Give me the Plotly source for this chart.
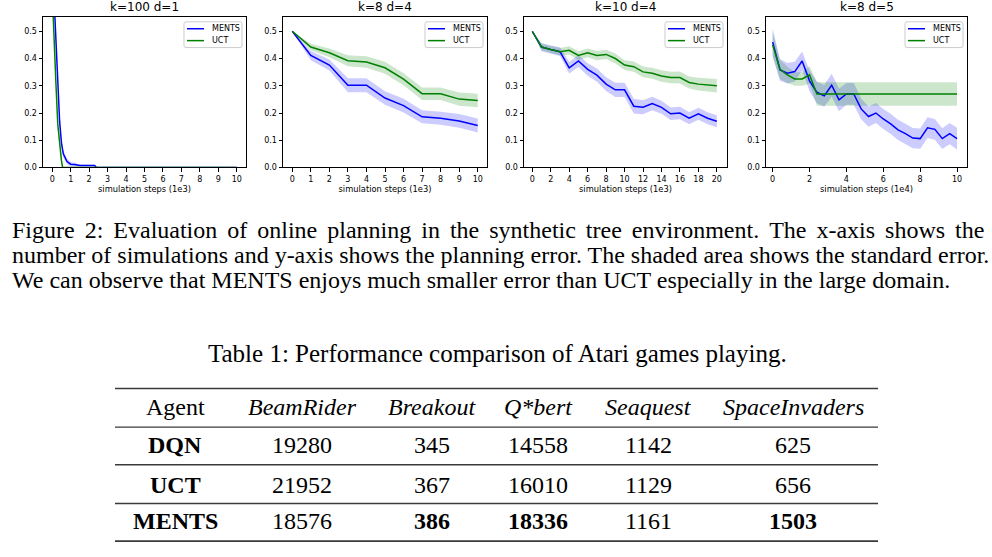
import plotly.graph_objects as go

# ---------------- data ----------------
titles = ["k=100 d=1", "k=8 d=4", "k=10 d=4", "k=8 d=5"]
xlabels = ["simulation steps (1e3)", "simulation steps (1e3)", "simulation steps (1e3)", "simulation steps (1e4)"]
series_names = ["MENTS", "UCT"]

# panel 1 (k=100 d=1)
p1_ments_x = [0.1, 0.2, 0.3, 0.4, 0.5, 0.6, 0.8, 1.0, 1.2, 1.5, 2.0, 2.3, 2.4, 3, 4, 5, 6, 7, 8, 9, 10]
p1_ments_y = [0.62, 0.46, 0.33, 0.17, 0.09, 0.05, 0.022, 0.012, 0.011, 0.007, 0.007, 0.007, 0.0, 0, 0, 0, 0, 0, 0, 0, 0]
p1_ments_se = [0.01, 0.01, 0.01, 0.012, 0.012, 0.012, 0.01, 0.008, 0.006, 0.004, 0.003, 0.003, 0, 0, 0, 0, 0, 0, 0, 0, 0]
p1_uct_x = [0.05, 0.1, 0.2, 0.3, 0.4, 0.5, 0.56, 1, 2, 3, 4, 5, 6, 7, 8, 9, 10]
p1_uct_y = [0.56, 0.45, 0.31, 0.16, 0.08, 0.025, 0.0, 0, 0, 0, 0, 0, 0, 0, 0, 0, 0]
p1_uct_se = [0.004, 0.004, 0.004, 0.004, 0.003, 0.002, 0, 0, 0, 0, 0, 0, 0, 0, 0, 0, 0]

# panel 2 (k=8 d=4)
p2_x = [0, 1, 2, 3, 4, 5, 6, 7, 8, 9, 10]
p2_ments_y = [0.5, 0.411, 0.376, 0.302, 0.302, 0.255, 0.227, 0.186, 0.181, 0.171, 0.154]
p2_ments_se = [0.0, 0.017, 0.02, 0.026, 0.026, 0.025, 0.025, 0.024, 0.024, 0.025, 0.026]
p2_uct_y = [0.5, 0.442, 0.421, 0.392, 0.387, 0.366, 0.324, 0.271, 0.271, 0.251, 0.246]
p2_uct_se = [0.0, 0.012, 0.016, 0.02, 0.021, 0.022, 0.022, 0.023, 0.023, 0.024, 0.025]

# panel 3 (k=10 d=4)
p3_x = list(range(21))
p3_ments_y = [0.5, 0.442, 0.433, 0.425, 0.366, 0.391, 0.36, 0.339, 0.306, 0.285, 0.285,
              0.225, 0.221, 0.235, 0.221, 0.197, 0.2, 0.181, 0.197, 0.181, 0.17]
p3_ments_se = [0.0, 0.015, 0.015, 0.016, 0.021, 0.022, 0.023, 0.024, 0.025, 0.026, 0.026,
               0.027, 0.026, 0.025, 0.024, 0.023, 0.023, 0.022, 0.022, 0.022, 0.022]
p3_uct_y = [0.5, 0.442, 0.433, 0.425, 0.43, 0.411, 0.421, 0.411, 0.415, 0.4, 0.376,
            0.37, 0.351, 0.346, 0.336, 0.33, 0.33, 0.312, 0.306, 0.302, 0.3]
p3_uct_se = [0.0, 0.012, 0.013, 0.014, 0.015, 0.016, 0.016, 0.017, 0.017, 0.018, 0.018,
             0.019, 0.02, 0.02, 0.021, 0.021, 0.022, 0.022, 0.023, 0.024, 0.025]

# panel 4 (k=8 d=5)
p4_x = [0, 0.4, 0.8, 1.2, 1.6, 2.0, 2.4, 2.8, 3.2, 3.6, 4.0, 4.4, 4.8, 5.2, 5.6, 6.0,
        6.4, 6.8, 7.2, 7.6, 8.0, 8.4, 8.8, 9.2, 9.6, 10.0]
p4_ments_y = [0.46, 0.358, 0.346, 0.352, 0.391, 0.318, 0.276, 0.263, 0.302, 0.248, 0.27, 0.27,
              0.215, 0.187, 0.2, 0.178, 0.16, 0.138, 0.124, 0.108, 0.106, 0.146, 0.14, 0.106,
              0.124, 0.106]
p4_ments_se = [0.05, 0.04, 0.038, 0.036, 0.035, 0.038, 0.04, 0.04, 0.042, 0.042, 0.04, 0.04,
               0.038, 0.037, 0.037, 0.037, 0.037, 0.037, 0.037, 0.037, 0.037, 0.038, 0.038,
               0.038, 0.039, 0.04]
p4_uct_y = [0.45, 0.36, 0.34, 0.325, 0.325, 0.34, 0.27, 0.27, 0.27, 0.27, 0.27, 0.27, 0.27,
            0.27, 0.27, 0.27, 0.27, 0.27, 0.27, 0.27, 0.27, 0.27, 0.27, 0.27, 0.27, 0.27]
p4_uct_se = [0.045, 0.035, 0.03, 0.025, 0.025, 0.033, 0.043, 0.043, 0.043, 0.043, 0.043, 0.043,
             0.043, 0.043, 0.043, 0.043, 0.043, 0.043, 0.043, 0.043, 0.043, 0.043, 0.043,
             0.043, 0.043, 0.043]

x_ranges = [[-0.5, 10.5], [-0.5, 10.5], [-0.9, 21.1], [-0.36, 10.54]]
x_ticks = [list(range(0, 11)), list(range(0, 11)), list(range(0, 21, 2)), list(range(0, 11, 2))]
y_ticks = [0, 0.1, 0.2, 0.3, 0.4, 0.5]

caption_lines = [
    "Figure 2: Evaluation of online planning in the synthetic tree environment.  The x-axis shows the",
    "number of simulations and y-axis shows the planning error. The shaded area shows the standard error.",
    "We can observe that MENTS enjoys much smaller error than UCT especially in the large domain.",
]
table_title = "Table 1: Performance comparison of Atari games playing."
table_header = ["Agent", "BeamRider", "Breakout", "Q*bert", "Seaquest", "SpaceInvaders"]
agents = ["DQN", "UCT", "MENTS"]
beamrider = [19280, 21952, 18576]
breakout = [345, 367, 386]
qbert = [14558, 16010, 18336]
seaquest = [1142, 1129, 1161]
spaceinvaders = [625, 656, 1503]
bold_cells = [(2, 1), (2, 2), (2, 4)]  # (row, game column) shown in bold

# ---------------- layout constants ----------------
W, H = 992, 557
BLUE = "#0000ff"
GREEN = "#008000"
BLUE_FILL = "rgba(0,0,255,0.2)"
GREEN_FILL = "rgba(0,128,0,0.2)"
SANS = "DejaVu Sans"
SERIF = "Liberation Serif"
CAP_SIZE = 24
TAB_SIZE = 24
TITLE_SIZE = 25
JUSTIFY_EXTRA = [1, 0, 0]   # six-per-em spaces added per word gap (LaTeX justification)


def px(x):
    return x / W


def py(y):
    return 1 - y / H


x_domains_px = [(43, 246), (283, 487), (524, 727), (766, 967)]
y_domain_px = (17, 169)

panels = [
    (p1_ments_x, p1_ments_y, p1_ments_se, p1_uct_x, p1_uct_y, p1_uct_se),
    (p2_x, p2_ments_y, p2_ments_se, p2_x, p2_uct_y, p2_uct_se),
    (p3_x, p3_ments_y, p3_ments_se, p3_x, p3_uct_y, p3_uct_se),
    (p4_x, p4_ments_y, p4_ments_se, p4_x, p4_uct_y, p4_uct_se),
]

fig = go.Figure()


def band(x, m, s):
    up = [a + b for a, b in zip(m, s)]
    lo = [max(a - b, 0) for a, b in zip(m, s)]
    return list(x) + list(x)[::-1], up + lo[::-1]


for i, (mx, my, ms, ux, uy, us) in enumerate(panels):
    k = "" if i == 0 else str(i + 1)
    xa, ya = "x" + k, "y" + k
    bx, by = band(mx, my, ms)
    fig.add_trace(go.Scatter(x=bx, y=by, fill="toself", fillcolor=BLUE_FILL, line=dict(width=0),
                             mode="lines", hoverinfo="skip", showlegend=False, xaxis=xa, yaxis=ya))
    bx, by = band(ux, uy, us)
    fig.add_trace(go.Scatter(x=bx, y=by, fill="toself", fillcolor=GREEN_FILL, line=dict(width=0),
                             mode="lines", hoverinfo="skip", showlegend=False, xaxis=xa, yaxis=ya))
    fig.add_trace(go.Scatter(x=mx, y=my, mode="lines", name=series_names[0],
                             line=dict(color=BLUE, width=1.5), showlegend=False, xaxis=xa, yaxis=ya))
    fig.add_trace(go.Scatter(x=ux, y=uy, mode="lines", name=series_names[1],
                             line=dict(color=GREEN, width=1.5), showlegend=False, xaxis=xa, yaxis=ya))

layout = dict(
    width=W, height=H, autosize=False,
    margin=dict(l=0, r=0, t=0, b=0),
    paper_bgcolor="white", plot_bgcolor="white",
    showlegend=False,
)
axis_common = dict(showline=True, mirror=True, linecolor="black", linewidth=1,
                   ticks="outside", ticklen=3.5, tickwidth=0.8, tickcolor="black",
                   showgrid=False, zeroline=False,
                   tickfont=dict(family=SANS, size=8, color="black"))
annotations = []
shapes = []


def rounded_rect(x0, y0, x1, y1, r):
    # pixel coords -> paper path with rounded corners
    def P(x, y):
        return "%.5f,%.5f" % (px(x), py(y))
    d = ("M " + P(x0 + r, y0) + " L " + P(x1 - r, y0) + " Q " + P(x1, y0) + " " + P(x1, y0 + r) +
         " L " + P(x1, y1 - r) + " Q " + P(x1, y1) + " " + P(x1 - r, y1) +
         " L " + P(x0 + r, y1) + " Q " + P(x0, y1) + " " + P(x0, y1 - r) +
         " L " + P(x0, y0 + r) + " Q " + P(x0, y0) + " " + P(x0 + r, y0) + " Z")
    return d


for i in range(4):
    k = "" if i == 0 else str(i + 1)
    x0, x1 = x_domains_px[i]
    top = y_domain_px[0]
    layout["xaxis" + k] = dict(axis_common, domain=[px(x0), px(x1)], range=x_ranges[i],
                               tickvals=x_ticks[i], anchor="y" + k,
                               title=dict(text=xlabels[i], font=dict(family=SANS, size=8.3, color="black"),
                                          standoff=3))
    layout["yaxis" + k] = dict(axis_common, domain=[py(y_domain_px[1]), py(y_domain_px[0])],
                               range=[0, 0.553], tickvals=y_ticks,
                               tickformat=".1f", anchor="x" + k)
    annotations.append(dict(text=titles[i], x=px((x0 + x1) / 2), y=py(top - 1),
                            xref="paper", yref="paper", xanchor="center", yanchor="bottom",
                            showarrow=False, font=dict(family=SANS, size=12, color="black")))
    # matplotlib-style legend box
    shapes.append(dict(type="path", xref="paper", yref="paper",
                       path=rounded_rect(x1 - 62, top + 5, x1 - 4, top + 31, 2),
                       fillcolor="rgba(255,255,255,0.8)", line=dict(color="#cccccc", width=1),
                       layer="above"))
    for n, (name, col) in enumerate(zip(series_names, [BLUE, GREEN])):
        yy = top + 12 + 12 * n
        shapes.append(dict(type="line", xref="paper", yref="paper", x0=px(x1 - 59), x1=px(x1 - 42),
                           y0=py(yy), y1=py(yy), line=dict(color=col, width=1.5), layer="above"))
        annotations.append(dict(text=name, x=px(x1 - 36), y=py(yy), xref="paper", yref="paper",
                                xanchor="left", yanchor="middle", showarrow=False,
                                font=dict(family=SANS, size=8, color="black")))

# caption
cap_y = [232, 257, 283]
for line, yy, extra in zip(caption_lines, cap_y, JUSTIFY_EXTRA):
    if extra:
        line = " ".join(w for w in line.split(" ") if w != "")
        line = line.replace(" ", " " + "\u2006" * extra)
    annotations.append(dict(text=line, x=px(10), y=py(yy), xref="paper", yref="paper",
                            xanchor="left", yanchor="middle", showarrow=False,
                            font=dict(family=SERIF, size=CAP_SIZE, color="black")))

# table title
annotations.append(dict(text=table_title, x=px(497), y=py(357), xref="paper", yref="paper",
                        xanchor="center", yanchor="middle", showarrow=False,
                        font=dict(family=SERIF, size=TITLE_SIZE, color="black")))

# table
col_x = [175, 302, 432, 538, 648, 793]
row_y = [411, 449, 489, 526]
rule_y = [392, 431, 469, 508, 546]
for j, h in enumerate(table_header):
    txt = h if j == 0 else "<i>" + h + "</i>"
    annotations.append(dict(text=txt, x=px(col_x[j]), y=py(row_y[0]), xref="paper", yref="paper",
                            xanchor="center", yanchor="middle", showarrow=False,
                            font=dict(family=SERIF, size=TAB_SIZE, color="black")))
columns = [beamrider, breakout, qbert, seaquest, spaceinvaders]
for r, ag in enumerate(agents):
    annotations.append(dict(text="<b>" + ag + "</b>", x=px(col_x[0]), y=py(row_y[r + 1]),
                            xref="paper", yref="paper", xanchor="center", yanchor="middle",
                            showarrow=False, font=dict(family=SERIF, size=TAB_SIZE, color="black")))
    for c, col in enumerate(columns):
        v = str(col[r])
        if (r, c) in bold_cells:
            v = "<b>" + v + "</b>"
        annotations.append(dict(text=v, x=px(col_x[c + 1]), y=py(row_y[r + 1]),
                                xref="paper", yref="paper", xanchor="center", yanchor="middle",
                                showarrow=False, font=dict(family=SERIF, size=TAB_SIZE, color="black")))
for n, yy in enumerate(rule_y):
    w = 1.7 if n in (0, len(rule_y) - 1) else 1.4
    shapes.append(dict(type="line", xref="paper", yref="paper", x0=px(115), x1=px(878),
                       y0=py(yy), y1=py(yy), line=dict(color="#3a3a3a", width=w)))

layout["annotations"] = annotations
layout["shapes"] = shapes
fig.update_layout(**layout)
fig.write_html("out.html")
